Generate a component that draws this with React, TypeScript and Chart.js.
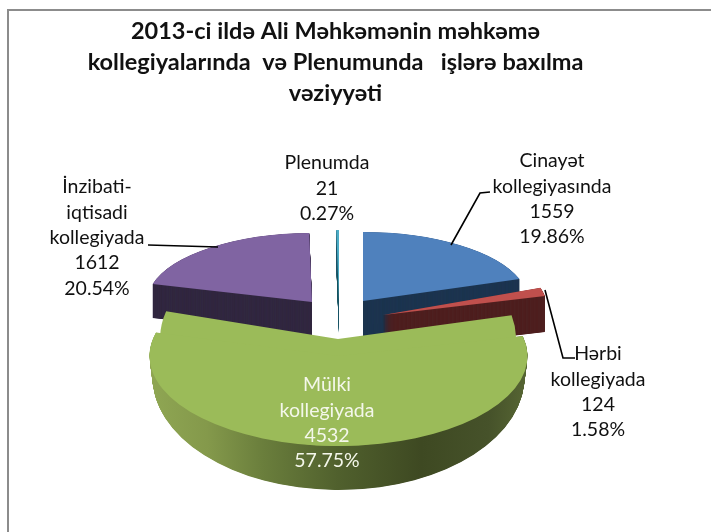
import React, { useEffect, useRef } from "react";
import { Chart, registerables } from "chart.js";

Chart.register(...registerables);

const categories = ["Cinayət kollegiyasında", "Hərbi kollegiyada", "Mülki kollegiyada", "İnzibati-iqtisadi kollegiyada", "Plenumda"];
const values = [1559, 124, 4532, 1612, 21];
const percents = ["19.86%", "1.58%", "57.75%", "20.54%", "0.27%"];
const categoryLines = [["Cinayət", "kollegiyasında"], ["Hərbi", "kollegiyada"], ["Mülki", "kollegiyada"], ["İnzibati-", "iqtisadi", "kollegiyada"], ["Plenumda"]];
const titleLines = ["2013-ci ildə Ali Məhkəmənin məhkəmə", "kollegiyalarında  və Plenumunda   işlərə baxılma", "vəziyyəti"];
const topColors = ["#4f81bd", "#c0504d", "#9bbb59", "#8064a2", "#4bacc6"];
const sideColors = ["#1d3550", "#4f2020", "#4f5e2c", "#322840", "#205867"];

const FONT = "Lato, 'Open Sans', sans-serif";

type Frame = { cx: number; cy: number; rx: number; ry: number };
// Projection of each exploded slice: top-face frames (near slices are a union of
// two ellipses to imitate perspective) and the frame of the lower rim.
const frames: { top: Frame[]; bottom: Frame }[] = [
  { top: [{ cx: 363, cy: 301, rx: 165, ry: 69 }], bottom: { cx: 363, cy: 337, rx: 165, ry: 69 } },
  { top: [{ cx: 383, cy: 315, rx: 166, ry: 86 }], bottom: { cx: 383, cy: 351, rx: 166, ry: 86 } },
  {
    top: [{ cx: 338, cy: 339, rx: 178, ry: 107 }, { cx: 338.5, cy: 356, rx: 189, ry: 90 }],
    bottom: { cx: 338.5, cy: 377, rx: 186, ry: 113 },
  },
  { top: [{ cx: 312, cy: 302, rx: 165, ry: 69 }], bottom: { cx: 312, cy: 336, rx: 165, ry: 69 } },
  { top: [{ cx: 339, cy: 300, rx: 163, ry: 70 }], bottom: { cx: 339, cy: 333, rx: 163, ry: 70 } },
];
const drawOrder = [4, 0, 3, 1, 2];
const labelFrames = [
  { x: 552, y: 161, color: "#111" },
  { x: 598, y: 354, color: "#111" },
  { x: 327, y: 385, color: "#f4f7ea" },
  { x: 97, y: 187, color: "#111" },
  { x: 327, y: 163, color: "#111" },
];
const leaders = [
  [[451, 245], [480, 193], [490, 192]],
  [[545, 290], [563, 358], [575, 358]],
  null,
  [[148, 245], [218, 247]],
  null,
];
const greenSideStops: [number, string][] = [
  [0, "#8fa653"], [0.15, "#84994b"], [0.3, "#6a7e3c"], [0.5, "#50602d"],
  [0.72, "#3e4922"], [0.9, "#46522a"], [1, "#566533"],
];

const pie3d = {
  id: "pie3d",
  beforeDatasetsDraw(chart: any) {
    const ctx = chart.ctx;
    const arcs = chart.getDatasetMeta(0).data;
    for (const i of drawOrder) {
      const arc = arcs[i];
      const { top, bottom } = frames[i];
      const last = top[top.length - 1];
      const R = arc.outerRadius;
      const base = arc.options;
      const drawIn = (f: Frame) => {
        ctx.save();
        ctx.translate(f.cx, f.cy);
        ctx.scale(f.rx / R, f.ry / R);
        ctx.translate(-arc.x, -arc.y);
        arc.draw(ctx);
        ctx.restore();
      };
      let side: any = sideColors[i];
      if (i === 2) {
        side = ctx.createLinearGradient(arc.x - R, 0, arc.x + R, 0);
        greenSideStops.forEach(([p, c]) => side.addColorStop(p, c));
      }
      arc.options = { ...base, backgroundColor: side, borderWidth: 0 };
      const steps = Math.ceil(bottom.cy - last.cy) * 4;
      for (let s = steps; s >= 1; s--) {
        const t = s / steps;
        drawIn({
          cx: last.cx + (bottom.cx - last.cx) * t,
          cy: last.cy + (bottom.cy - last.cy) * t,
          rx: last.rx + (bottom.rx - last.rx) * t,
          ry: last.ry + (bottom.ry - last.ry) * t,
        });
      }
      arc.options = { ...base, borderWidth: 0 };
      top.forEach(drawIn);
      arc.options = base;
    }
    return false;
  },
  afterDraw(chart: any) {
    const ctx = chart.ctx;
    ctx.save();
    ctx.strokeStyle = "#000";
    ctx.lineWidth = 1.6;
    leaders.forEach((pts) => {
      if (!pts) return;
      ctx.beginPath();
      pts.forEach(([x, y], k) => (k ? ctx.lineTo(x, y) : ctx.moveTo(x, y)));
      ctx.stroke();
    });
    ctx.font = `19.5px ${FONT}`;
    ctx.textAlign = "center";
    ctx.textBaseline = "middle";
    categories.forEach((_, i) => {
      const lines = [...categoryLines[i], String(values[i]), percents[i]];
      ctx.fillStyle = labelFrames[i].color;
      lines.forEach((t, k) => ctx.fillText(t, labelFrames[i].x, labelFrames[i].y + k * 25.4));
    });
    ctx.restore();
  },
};

export default function App() {
  const ref = useRef<HTMLCanvasElement>(null);
  useEffect(() => {
    const chart = new Chart(ref.current as HTMLCanvasElement, {
      type: "pie",
      data: {
        labels: categories,
        datasets: [{ data: values, backgroundColor: topColors, borderWidth: 0 }],
      },
      options: {
        responsive: false,
        animation: false,
        rotation: 0,
        layout: { padding: { right: 40 } },
        plugins: {
          legend: { display: false },
          tooltip: { enabled: false },
          title: {
            display: true,
            text: titleLines,
            fullSize: false,
            color: "#111",
            font: { family: FONT, size: 23.5, weight: "bold", lineHeight: 1.31 },
            padding: { top: 16, bottom: 10 },
          },
        },
      },
      plugins: [pie3d],
    } as any);
    return () => chart.destroy();
  }, []);
  return (
    <div style={{ position: "fixed", left: 0, top: 0, width: 711, height: 532, background: "#fff", overflow: "hidden" }}>
      <canvas ref={ref} width={711} height={532} style={{ position: "absolute", left: 0, top: 0 }} />
      <div style={{ position: "absolute", left: 7, top: 9, width: 720, height: 540, borderLeft: "2.5px solid #8c8c8c", borderTop: "2.5px solid #8c8c8c" }} />
    </div>
  );
}
